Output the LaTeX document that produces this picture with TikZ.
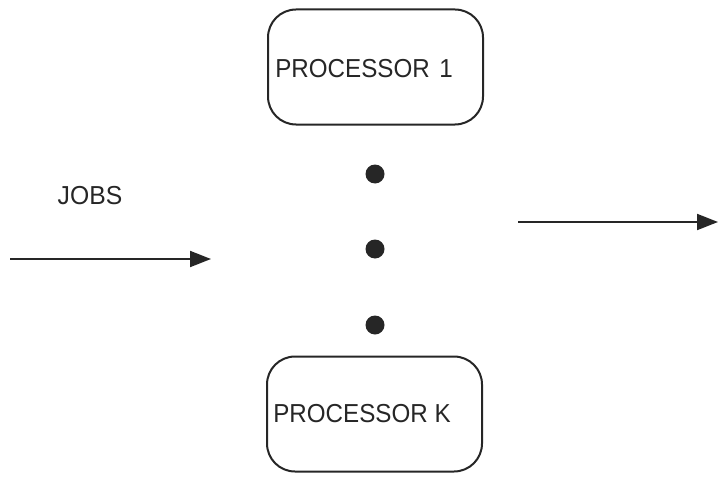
\documentclass[tikz,border=0pt]{standalone}
\usepackage{fontspec}
\setmainfont{Liberation Sans}
\usetikzlibrary{arrows.meta}
\begin{document}
\begin{tikzpicture}[x=1pt,y=-1pt,
  procbox/.style={draw=black!85, line width=2pt, rounded corners=28pt, minimum width=215pt, minimum height=115pt, inner sep=0pt},
  lbl/.style={inner sep=0pt, font=\fontsize{26}{26}\selectfont, text=black!85},
  flow/.style={line width=2pt, draw=black!85, -{Triangle[length=21pt,width=16pt]}},
  dotc/.style={circle, fill=black!85, minimum size=19pt, inner sep=0pt}]
\useasboundingbox (0,0) rectangle (719,476);
\node[procbox] (p1) at (375.5,67) {};
\node[lbl] (t1) at (364,69) {\scalebox{0.93}[1]{PROCESSOR\hspace{3pt} 1}};
\node[procbox] (pk) at (374.5,414) {};
\node[lbl] (tk) at (362,414) {\scalebox{0.93}[1]{PROCESSOR K}};
\node[dotc] (d1) at (375,174) {};
\node[dotc] (d2) at (375,249) {};
\node[dotc] (d3) at (375,325) {};
\node[lbl] (jobs) at (90,196) {\scalebox{0.95}[1]{JOBS}};
\coordinate (ina) at (10,259);
\coordinate (inb) at (211,259);
\coordinate (outa) at (518,222);
\coordinate (outb) at (718,222);
\draw[flow] (ina) -- (inb);
\draw[flow] (outa) -- (outb);
\end{tikzpicture}
\end{document}
